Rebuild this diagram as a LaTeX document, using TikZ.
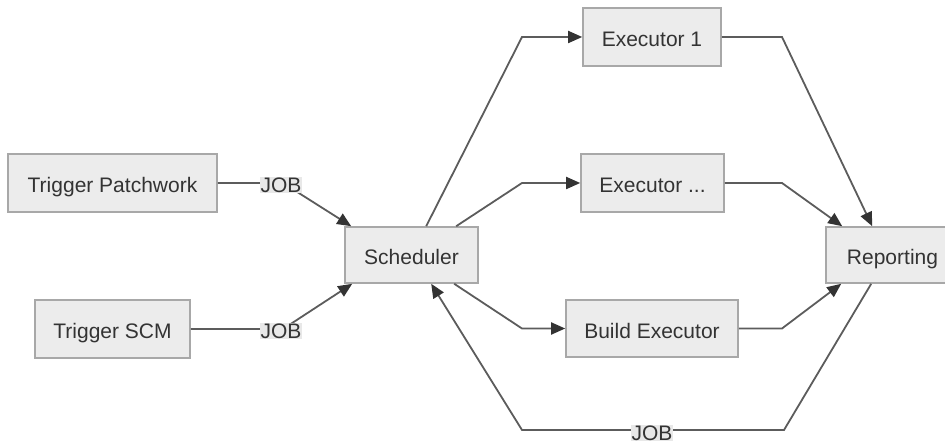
\documentclass[tikz,border=0pt]{standalone}
\usepackage{fontspec}
\setmainfont{Liberation Sans}
\usetikzlibrary{arrows.meta}
\definecolor{boxfill}{HTML}{ECECEC}
\definecolor{boxline}{HTML}{A8A8A8}
\definecolor{edgecol}{HTML}{5C5C5C}
\definecolor{tipcol}{HTML}{333333}
\definecolor{txtcol}{HTML}{333333}
\definecolor{lblfill}{HTML}{E8E8E8}
\tikzset{
  box/.style={draw=boxline, fill=boxfill, line width=1.6pt, rectangle, inner sep=0pt,
    text height=20pt, text depth=0pt,
    text=txtcol, font=\fontsize{21}{24}\selectfont},
  edge/.style={draw=edgecol, line width=1.8pt, line join=miter,
    -{Triangle[length=14pt,width=12pt,fill=tipcol,color=tipcol]}},
  lbl/.style={fill=lblfill, inner sep=1pt, text=txtcol, font=\fontsize{21}{24}\selectfont}
}
\begin{document}
\begin{tikzpicture}[x=1pt,y=-1pt]
\useasboundingbox (0,0) rectangle (945,443);
% nodes
\node[box, minimum width=209pt, minimum height=58pt] (tp) at (112.5,183) {Trigger Patchwork};
\node[box, minimum width=155pt, minimum height=58pt] (tscm) at (112.5,329) {Trigger SCM};
\node[box, minimum width=133pt, minimum height=56pt] (sched) at (411.5,255) {Scheduler};
\node[box, minimum width=138pt, minimum height=58pt] (e1) at (652,37) {Executor 1};
\node[box, minimum width=143pt, minimum height=58pt] (edots) at (652.5,183) {Executor ...};
\node[box, minimum width=172pt, minimum height=57pt] (build) at (652,328.5) {Build Executor};
\node[box, minimum width=133pt, minimum height=56pt] (rep) at (892.5,255) {Reporting};
% waypoints
\coordinate (w1) at (283,183);
\coordinate (w2) at (283,329);
\coordinate (w3) at (522,37);
\coordinate (w4) at (522,183);
\coordinate (w5) at (522,328.5);
\coordinate (w6) at (782,37);
\coordinate (w7) at (782,183);
\coordinate (w8) at (782,328.5);
\coordinate (w9) at (784,430);
\coordinate (w10) at (522,430);
% edges
\draw[edge] (tp.east) -- (w1) -- ([xshift=7pt]sched.north west);
\draw[edge] (tscm.east) -- (w2) -- ([xshift=8pt]sched.south west);
\draw[edge] ([xshift=82pt]sched.north west) -- (w3) -- (e1.west);
\draw[edge] ([xshift=112pt]sched.north west) -- (w4) -- (edots.west);
\draw[edge] ([xshift=110pt]sched.south west) -- (w5) -- (build.west);
\draw[edge] (e1.east) -- (w6) -- ([xshift=47pt]rep.north west);
\draw[edge] (edots.east) -- (w7) -- ([xshift=17pt]rep.north west);
\draw[edge] (build.east) -- (w8) -- ([xshift=16pt]rep.south west);
\draw[edge] ([xshift=46pt]rep.south west) -- (w9) -- (w10) -- ([xshift=87pt]sched.south west);
% labels
\node[lbl] (l1) at (281,185) {JOB};
\node[lbl] (l2) at (281,331) {JOB};
\node[lbl] (l3) at (652,433) {JOB};
\end{tikzpicture}
\end{document}
